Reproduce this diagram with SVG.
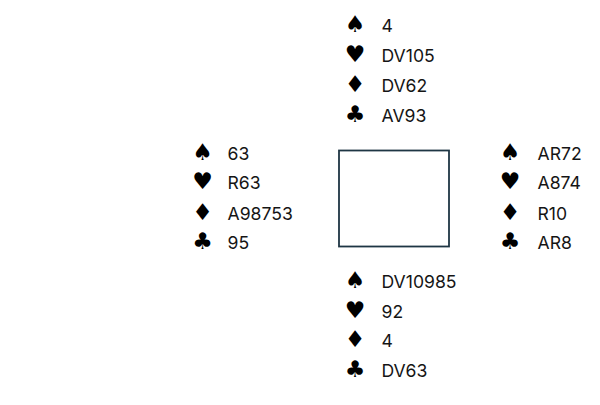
<svg xmlns="http://www.w3.org/2000/svg" width="600" height="405" viewBox="0 0 600 405">
<style>
.s{font-family:"DejaVu Sans",sans-serif;font-size:23px;fill:#000;text-anchor:middle}
.t{font-family:Inter,"Liberation Sans",sans-serif;font-size:17.6px;fill:#151515}
.box{fill:#fff;stroke:#1e3644;stroke-width:1.8}
</style>
<rect width="600" height="405" fill="#fff"/>
<g id="north">
<text class="s" x="355" y="32">♠</text><text class="t" x="381.5" y="32">4</text>
<text class="s" x="355" y="62">♥</text><text class="t" x="381.5" y="62">DV105</text>
<text class="s" x="355" y="92">♦</text><text class="t" x="381.5" y="92">DV62</text>
<text class="s" x="355" y="121.5">♣</text><text class="t" x="381.5" y="121.5">AV93</text>
</g>
<g id="west">
<text class="s" x="202.5" y="159.5">♠</text><text class="t" x="227.5" y="159.5">63</text>
<text class="s" x="202.5" y="189">♥</text><text class="t" x="227.5" y="189">R63</text>
<text class="s" x="202.5" y="219.5">♦</text><text class="t" x="227.5" y="219.5">A98753</text>
<text class="s" x="202.5" y="249">♣</text><text class="t" x="227.5" y="249">95</text>
</g>
<g id="table">
<rect class="box" x="339" y="150.5" width="110" height="96"/>
</g>
<g id="east">
<text class="s" x="510" y="159.5">♠</text><text class="t" x="537.5" y="159.5">AR72</text>
<text class="s" x="510" y="189">♥</text><text class="t" x="537.5" y="189">A874</text>
<text class="s" x="510" y="219.5">♦</text><text class="t" x="537.5" y="219.5">R10</text>
<text class="s" x="510" y="249">♣</text><text class="t" x="537.5" y="249">AR8</text>
</g>
<g id="south">
<text class="s" x="355" y="288">♠</text><text class="t" x="381.5" y="288">DV10985</text>
<text class="s" x="355" y="317.5">♥</text><text class="t" x="381.5" y="317.5">92</text>
<text class="s" x="355" y="347">♦</text><text class="t" x="381.5" y="347">4</text>
<text class="s" x="355" y="376.5">♣</text><text class="t" x="381.5" y="376.5">DV63</text>
</g>
<g id="connectors"/>
</svg>
